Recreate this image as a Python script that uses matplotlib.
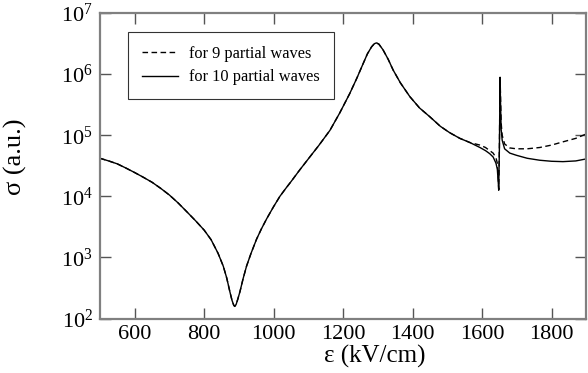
import matplotlib

matplotlib.use("Agg")

import matplotlib.pyplot as plt

# common part of both curves (field in kV/cm, cross section in a.u.)
eps_common = [500, 525, 550, 575, 600, 625, 650, 675, 700, 725, 750, 775, 800, 820,
              840, 855, 865, 874, 880, 885, 888, 892, 897, 903, 912, 922, 935, 951,
              965, 980, 1000, 1018, 1035, 1050, 1075, 1104, 1130, 1162, 1190, 1219,
              1240, 1258, 1270, 1282, 1290, 1296, 1303, 1315, 1330, 1344, 1365, 1392,
              1420, 1450, 1480, 1507, 1536, 1565]
sigma_common = [4.2e4, 3.8e4, 3.4e4, 2.9e4, 2.45e4, 2.05e4, 1.7e4, 1.35e4, 1.05e4,
                7.8e3, 5.6e3, 4.0e3, 2.8e3, 1.95e3, 1.17e3, 720, 460, 275, 200, 166,
                158, 170, 209, 275, 447, 720, 1.17e3, 2.0e3, 2.95e3, 4.3e3, 6.8e3,
                1.0e4, 1.35e4, 1.74e4, 2.7e4, 4.4e4, 6.8e4, 1.2e5, 2.3e5, 4.8e5, 8.7e5,
                1.5e6, 2.15e6, 2.8e6, 3.15e6, 3.25e6, 3.1e6, 2.5e6, 1.74e6, 1.17e6,
                7.2e5, 4.3e5, 2.8e5, 2.0e5, 1.4e5, 1.1e5, 8.9e4, 7.6e4]

# tail near the narrow resonance, where the two results differ
eps_tail = [1594, 1610, 1622, 1632, 1640, 1644, 1647, 1648, 1650, 1652, 1653, 1655,
            1658, 1665, 1680, 1699, 1730, 1766, 1800, 1833, 1870, 1900]
sigma_tail_10 = [6.3e4, 5.6e4, 5.0e4, 4.4e4, 3.5e4, 2.8e4, 1.6e4, 1.26e4, 6.3e4, 8.9e5,
                 4.0e5, 1.26e5, 8.3e4, 6.0e4, 5.1e4, 4.7e4, 4.2e4, 3.9e4, 3.75e4,
                 3.7e4, 3.8e4, 4.1e4]
sigma_tail_9 = [6.9e4, 6.3e4, 5.6e4, 5.1e4, 4.3e4, 3.5e4, 1.8e4, 1.3e4, 6.3e4, 8.9e5,
                5.0e5, 1.6e5, 1.0e5, 7.2e4, 6.2e4, 6.0e4, 6.0e4, 6.3e4, 6.9e4, 7.8e4,
                8.9e4, 1.05e5]

x_ticks = [600, 800, 1000, 1200, 1400, 1600, 1800]
y_ticks = [1e2, 1e3, 1e4, 1e5, 1e6, 1e7]

plt.rcParams["font.family"] = ["Liberation Serif", "DejaVu Serif"]
plt.rcParams["mathtext.fontset"] = "stix"

fig = plt.figure(figsize=(5.88, 3.73), dpi=100)
ax = fig.add_axes([0.170, 0.146, 0.827, 0.819])

ax.plot(eps_common + eps_tail, sigma_common + sigma_tail_9, color="black",
        linestyle=(0, (4, 2.5)), linewidth=1.0, label="for 9 partial waves")
ax.plot(eps_common + eps_tail, sigma_common + sigma_tail_10, color="black",
        linewidth=1.0, label="for 10 partial waves")

ax.set_yscale("log")
ax.set_xlim(500, 1900)
ax.set_ylim(1e2, 1e7)
ax.set_xticks(x_ticks)
ax.set_yticks(y_ticks)
ax.minorticks_off()
ax.tick_params(direction="in", length=8, width=1.0, color="#555555", labelsize=16,
               top=True, right=True, pad=5)

for spine in ax.spines.values():
    spine.set_color("#808080")
    spine.set_linewidth(1.6)

ax.set_xlabel("ε (kV/cm)", fontsize=18)
ax.xaxis.set_label_coords(0.566, -0.085)
ax.set_ylabel("σ (a.u.)", fontsize=19)
ax.yaxis.set_label_coords(-0.15, 0.53)

leg = ax.legend(loc="upper left", bbox_to_anchor=(0.04, 0.965), fontsize=11.8,
                frameon=True, fancybox=False, handlelength=2.2, handletextpad=0.7,
                borderpad=0.85, labelspacing=0.45)
leg.get_frame().set_edgecolor("black")
leg.get_frame().set_linewidth(0.8)

fig.savefig("out.png", dpi=100)
